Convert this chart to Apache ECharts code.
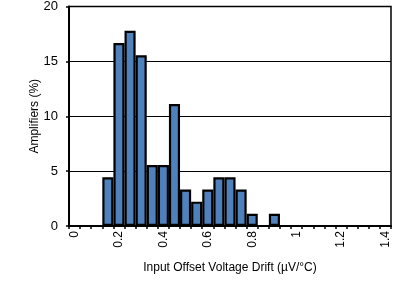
<!DOCTYPE html>
<html><head><meta charset="utf-8">
<script src="https://cdn.jsdelivr.net/npm/echarts@6/dist/echarts.min.js"></script>
<style>html,body{margin:0;padding:0;background:#fff}#c{width:406px;height:282px}</style>
</head><body><div id="c"></div>
<script>
var categories = ['0','0.05','0.1','0.15','0.2','0.25','0.3','0.35','0.4','0.45','0.5','0.55','0.6','0.65','0.7','0.75','0.8','0.85','0.9','0.95','1','1.05','1.1','1.15','1.2','1.25','1.3','1.35','1.4'];
var amplifiers = [0,0,0,4.44,16.67,17.78,15.56,5.56,5.56,11.11,3.33,2.22,3.33,4.44,4.44,3.33,1.11,0,1.11,0,0,0,0,0,0,0,0,0,0];
var yTicks = [0,5,10,15,20];
var xTitle = 'Input Offset Voltage Drift (µV/°C)';
var yTitle = 'Amplifiers (%)';
var font = 'Liberation Sans, Arial, Helvetica, sans-serif';
var chart = echarts.init(document.getElementById('c'), null, {renderer:'canvas'});
chart.setOption({
  animation:false,
  grid:{left:69,right:15,top:6,bottom:56,containLabel:false,show:true,borderColor:'#000',borderWidth:1.5},
  xAxis:{type:'category',data:categories,name:xTitle,nameLocation:'middle',nameGap:36,nameMoveOverlap:false,
    nameTextStyle:{fontFamily:font,fontSize:12,color:'#000'},
    axisLine:{lineStyle:{color:'#000',width:2}},
    axisTick:{show:true,interval:0,length:3,lineStyle:{color:'#000',width:1.5}},
    axisLabel:{interval:3,rotate:90,fontFamily:font,fontSize:12,color:'#000',margin:5},
    splitLine:{show:false}},
  yAxis:{type:'value',min:yTicks[0],max:yTicks[yTicks.length-1],interval:5,name:yTitle,nameLocation:'middle',nameGap:28,nameMoveOverlap:false,
    nameTextStyle:{fontFamily:font,fontSize:12,color:'#000'},
    axisLine:{show:true,lineStyle:{color:'#000',width:2}},
    axisTick:{show:true,length:3,lineStyle:{color:'#000',width:1.5}},
    axisLabel:{fontFamily:font,fontSize:13,color:'#000',margin:11},
    splitLine:{show:true,lineStyle:{color:'#000',width:1}}},
  series:[{type:'bar',data:amplifiers.map(function(v){return v===0?'-':v;}),barCategoryGap:'0%',
    itemStyle:{color:'#4F81BD',borderColor:'#000',borderWidth:2.2}}]
});
</script></body></html>
